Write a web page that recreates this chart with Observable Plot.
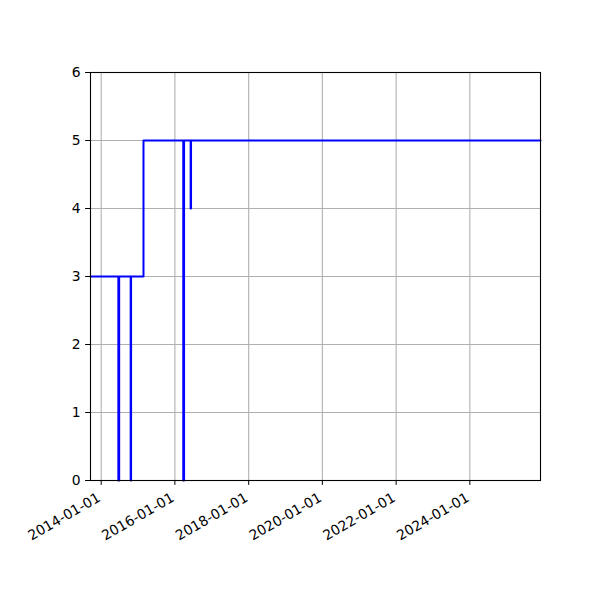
<!DOCTYPE html>
<html>
<head>
<meta charset="utf-8">
<script src="https://cdn.jsdelivr.net/npm/d3@7"></script>
<script src="https://cdn.jsdelivr.net/npm/@observablehq/plot@0.6"></script>
<style>
  html, body { margin: 0; padding: 0; background: #fff; }
  #chart { width: 600px; height: 600px; }
</style>
</head>
<body>
<div id="chart"></div>
<script>
// Change points of the series (value holds from that date onward)
const changeDates = [
  "2013-09-17", "2014-06-20", "2014-06-28", "2014-10-20", "2014-10-24",
  "2015-02-24", "2016-03-24", "2016-04-01", "2016-06-05", "2016-06-09",
  "2025-12-01"
];
const changeValues = [3, 0, 3, 0, 3, 5, 0, 5, 4, 5, 5];

const xDomain = ["2013-09-17", "2025-12-01"];
const xTickDates = ["2014-01-01", "2016-01-01", "2018-01-01", "2020-01-01", "2022-01-01", "2024-01-01"];
const yTicks = [0, 1, 2, 3, 4, 5, 6];

const parse = d3.utcParse("%Y-%m-%d");
const data = changeDates.map((d, i) => ({date: parse(d), value: changeValues[i]}));
const xTicks = xTickDates.map(parse);

const chart = Plot.plot({
  width: 600,
  height: 600,
  marginLeft: 90,
  marginRight: 60,
  marginTop: 72,
  marginBottom: 120,
  style: {fontFamily: "DejaVu Sans", fontSize: "13.9px", color: "#000", background: "#fff"},
  x: {type: "utc", domain: xDomain.map(parse)},
  y: {domain: [0, 6]},
  marks: [
    Plot.gridX(xTicks, {stroke: "#b0b0b0", strokeOpacity: 1, strokeWidth: 1.1}),
    Plot.gridY(yTicks, {stroke: "#b0b0b0", strokeOpacity: 1, strokeWidth: 1.1}),
    Plot.lineY(data, {x: "date", y: "value", curve: "step-after", stroke: "#0000ff", strokeWidth: 2}),
    Plot.frame({stroke: "#000", strokeWidth: 1.1}),
    Plot.axisY(yTicks, {tickSize: 4.9, tickPadding: 4.9, label: null, tickFormat: d => String(d)}),
    Plot.axisX(xTicks, {tickSize: 4.9, label: null, tickFormat: () => ""}),
    Plot.axisX(xTicks, {tickSize: 0, tickPadding: 0, label: null, tickRotate: -30,
      tickFormat: d3.utcFormat("%Y-%m-%d"), textAnchor: "end", dy: 16, dx: -2})
  ]
});
document.getElementById("chart").appendChild(chart);
</script>
</body>
</html>
